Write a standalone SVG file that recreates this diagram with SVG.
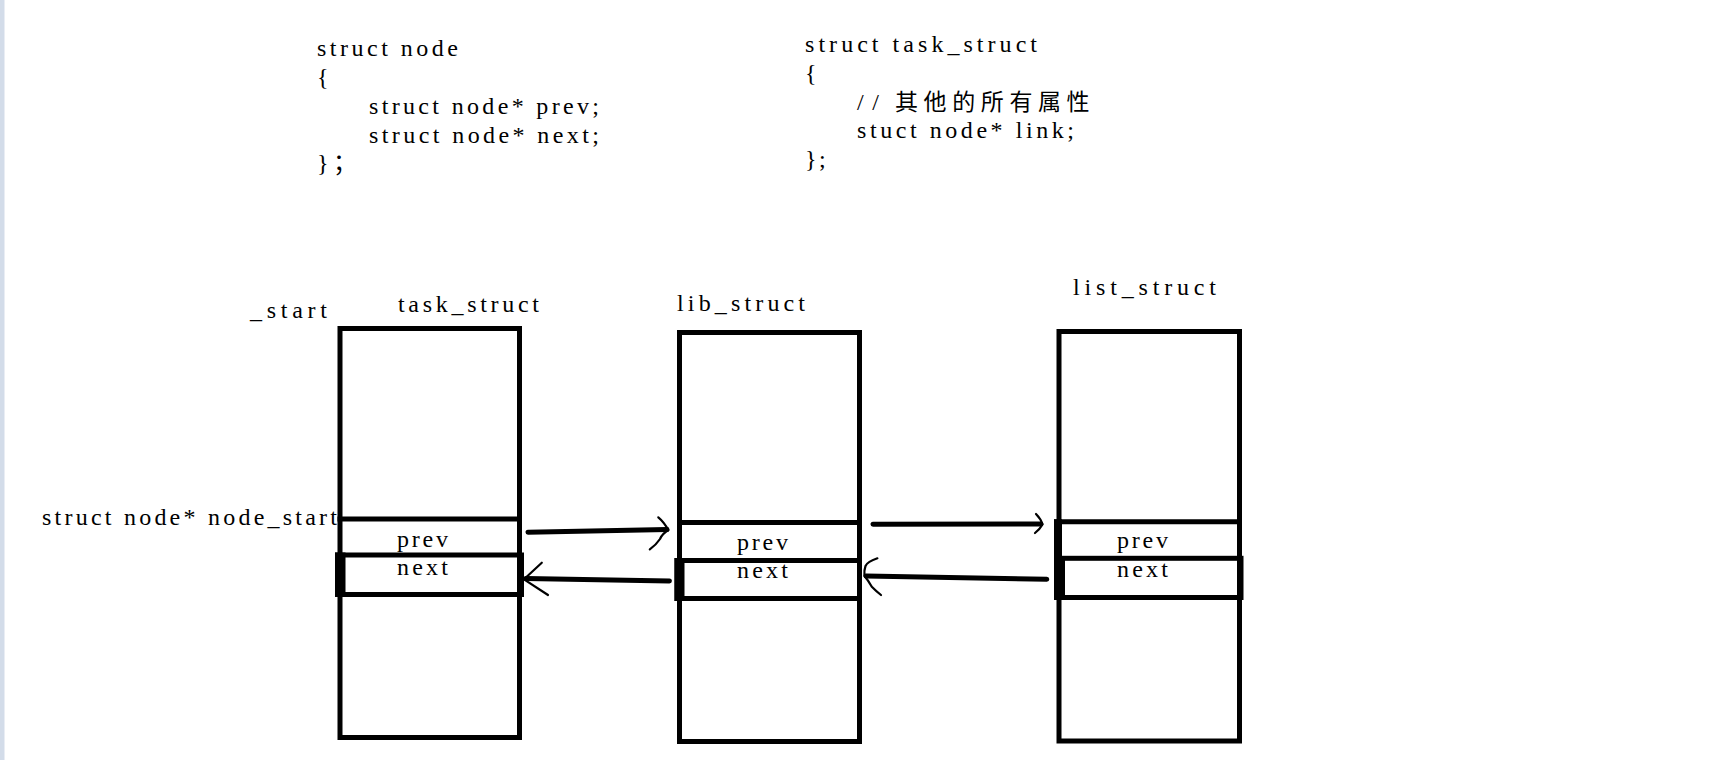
<svg xmlns="http://www.w3.org/2000/svg" width="1734" height="760" viewBox="0 0 1734 760">
<style>
text{font-family:"Liberation Serif","Noto Sans CJK SC",serif;font-size:24px;fill:#000}
.cjk{font-family:"Noto Sans CJK SC",sans-serif;font-size:23px;letter-spacing:5.6px}
.box{fill:none;stroke:#000;stroke-width:5}
.ln{stroke:#000;stroke-width:5;fill:none}
.thick{fill:#000}
.shaft{stroke:#000;stroke-width:5;fill:none;stroke-linecap:round}
.head{stroke:#000;stroke-width:2.2;fill:none;stroke-linecap:round;stroke-linejoin:round}
</style>
<rect x="0" y="0" width="1734" height="760" fill="#fff"/>
<rect x="0" y="0" width="4.5" height="760" fill="#d3dce9"/>

<g id="code-node">
<text x="317" y="56" textLength="141" lengthAdjust="spacing">struct node</text>
<text x="317" y="85">{</text>
<text x="369" y="114" textLength="230" lengthAdjust="spacing">struct node* prev;</text>
<text x="369" y="143" textLength="230" lengthAdjust="spacing">struct node* next;</text>
<text x="317" y="171">}<tspan x="333" font-family="Noto Sans CJK SC, sans-serif">；</tspan></text>
</g>

<g id="code-task">
<text x="805" y="52" textLength="232" lengthAdjust="spacing">struct task_struct</text>
<text x="805" y="81">{</text>
<text x="857" y="110"><tspan textLength="22" lengthAdjust="spacing">//</tspan><tspan x="895" class="cjk">其他的所有属性</tspan></text>
<text x="857" y="138" textLength="217" lengthAdjust="spacing">stuct node* link;</text>
<text x="805" y="167">}<tspan x="819">;</tspan></text>
</g>

<g id="label-start">
<text x="250" y="318" textLength="77" lengthAdjust="spacing">_start</text>
<text x="42" y="525" textLength="295" lengthAdjust="spacing">struct node* node_start</text>
</g>

<g id="task_struct">
<text x="398" y="312" textLength="141" lengthAdjust="spacing">task_struct</text>
<rect class="box" x="340" y="328.5" width="179.5" height="409"/>
<line class="ln" x1="337.5" y1="519" x2="522" y2="519"/>
<rect class="box" x="337.5" y="555" width="184" height="39.5"/>
<rect class="thick" x="335" y="552.5" width="10.5" height="44.5"/>
<text x="397" y="547" textLength="51" lengthAdjust="spacing">prev</text>
<text x="397" y="575" textLength="51" lengthAdjust="spacing">next</text>
</g>

<g id="lib_struct">
<text x="677" y="311" textLength="128" lengthAdjust="spacing">lib_struct</text>
<rect class="box" x="679.5" y="332.5" width="180" height="409"/>
<line class="ln" x1="677" y1="522.5" x2="862" y2="522.5"/>
<rect class="box" x="677" y="560.5" width="182.5" height="38"/>
<rect class="thick" x="674.5" y="558" width="10" height="43"/>
<text x="737" y="550" textLength="51" lengthAdjust="spacing">prev</text>
<text x="737" y="578" textLength="51" lengthAdjust="spacing">next</text>
</g>

<g id="list_struct">
<text x="1073" y="295" textLength="143" lengthAdjust="spacing">list_struct</text>
<rect class="box" x="1059" y="331.5" width="180.5" height="409.5"/>
<line class="ln" x1="1054" y1="521.7" x2="1242" y2="521.7"/>
<rect class="box" x="1056.5" y="558.3" width="184.5" height="39.2"/>
<rect class="thick" x="1054" y="519.3" width="8" height="80.7"/>
<rect class="thick" x="1054" y="556" width="11" height="44"/>
<text x="1117" y="548" textLength="51" lengthAdjust="spacing">prev</text>
<text x="1117" y="577" textLength="51" lengthAdjust="spacing">next</text>
</g>

<g id="connectors">
<path class="shaft" d="M528,532.3 L667,529.5"/>
<path class="head" d="M658.3,517.3 Q664,522 668.3,530 Q662,534 660,539 Q656,545 649.8,549.3"/>
<path class="shaft" d="M669.4,581 L526,578.5"/>
<path class="head" d="M541.8,562.7 L524,579.3 L548,595"/>
<path class="shaft" d="M873,524.3 L1041,524"/>
<path class="head" d="M1036,514 Q1041,519 1042.5,524.5 Q1040,529 1035,533"/>
<path class="shaft" d="M1046.8,579.3 L866,576"/>
<path class="head" d="M877.4,558.3 Q867,562 865.5,566 Q864,570 864.4,576 Q868,580 871.8,586.7 Q876,591 881,595"/>
</g>
</svg>
